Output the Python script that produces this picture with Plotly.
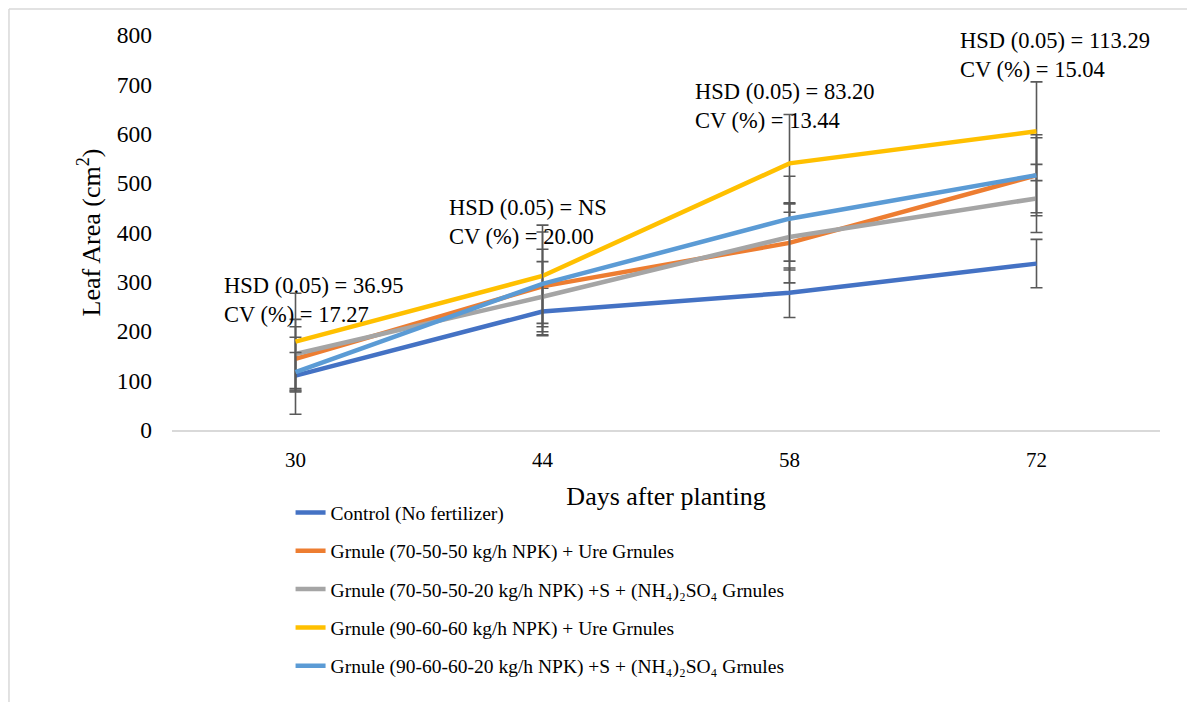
import plotly.graph_objects as go

days = ["30", "44", "58", "72"]

series_names = [
    "Control (No fertilizer)",
    "Grnule (70-50-50 kg/h NPK) + Ure Grnules",
    "Grnule (70-50-50-20 kg/h NPK) +S + (NH\u2084)\u2082SO\u2084 Grnules",
    "Grnule (90-60-60 kg/h NPK) + Ure Grnules",
    "Grnule (90-60-60-20 kg/h NPK) +S + (NH\u2084)\u2082SO\u2084 Grnules",
]
control = [110, 240, 278, 337]
g70 = [144, 291, 379, 516]
g70s = [154, 270, 391, 469]
g90 = [179, 312, 540, 605]
g90s = [117, 296, 428, 516]

control_err = [78, 47, 50, 49]
g70_err = [65, 75, 81, 82]
g70s_err = [70, 71, 67, 69]
g90_err = [98, 103, 99, 100]
g90s_err = [40, 105, 86, 76]

hsd_labels = [
    "HSD (0.05) = 36.95<br>CV (%) = 17.27",
    "HSD (0.05) = NS<br>CV (%) = 20.00",
    "HSD (0.05) = 83.20<br>CV (%) = 13.44",
    "HSD (0.05) = 113.29<br>CV (%) = 15.04",
]

colors = ["#4472C4", "#ED7D31", "#A5A5A5", "#FFC000", "#5B9BD5"]
values = [control, g70, g70s, g90, g90s]
errors = [control_err, g70_err, g70s_err, g90_err, g90s_err]

FONT = "Liberation Serif"

fig = go.Figure()
for i, (name, vals, errs, col) in enumerate(zip(series_names, values, errors, colors)):
    fig.add_trace(go.Scatter(
        x=days, y=vals, name=name, mode="lines",
        line=dict(color=col, width=4.5),
        legendgroup=f"g{i}",
        error_y=dict(type="data", array=errs, visible=True,
                     color="#595959", thickness=1.6, width=6),
    ))

# annotation positions (paper coords)
ann_x = [0.0506, 0.278, 0.527, 0.796]
ann_y = [0.329, 0.527, 0.820, 0.949]
for txt, ax, ay in zip(hsd_labels, ann_x, ann_y):
    fig.add_annotation(text=txt, x=ax, y=ay, xref="paper", yref="paper",
                       xanchor="left", yanchor="middle", align="left",
                       showarrow=False, font=dict(family=FONT, size=22.5, color="#000"))

# outer frame (left and top edges visible)
fig.add_shape(type="line", xref="paper", yref="paper", x0=-0.165, x1=-0.165, y0=1.066, y1=-0.75,
              line=dict(color="#D9D9D9", width=1.5))
fig.add_shape(type="line", xref="paper", yref="paper", x0=-0.165, x1=1.06, y0=1.066, y1=1.066,
              line=dict(color="#D9D9D9", width=1.5))

fig.update_layout(
    width=1195, height=702,
    margin=dict(l=164, r=43, t=27, b=280),
    paper_bgcolor="white", plot_bgcolor="white",
    font=dict(family=FONT, size=20, color="#000"),
    showlegend=True,
    legend=dict(x=0.120, y=-0.16, xanchor="left", yanchor="top",
                orientation="v", tracegroupgap=10,
                font=dict(family=FONT, size=19.5, color="#000"),
                bgcolor="rgba(0,0,0,0)"),
    xaxis=dict(type="category", range=[-0.5, 3.5], showgrid=False, zeroline=False,
               automargin=False,
               showline=True, linecolor="#D9D9D9", linewidth=1.5,
               ticks="", ticklabelstandoff=10,
               tickfont=dict(family=FONT, size=21, color="#000"),
               title=dict(text="Days after planting", standoff=16,
                          font=dict(family=FONT, size=26, color="#000"))),
    yaxis=dict(range=[0, 800], dtick=100, showgrid=False, zeroline=False,
               automargin=False,
               showline=False, ticks="", ticklabelstandoff=19,
               tickfont=dict(family=FONT, size=23.5, color="#000"),
               title=dict(text="Leaf Area (cm<sup>2</sup>)", standoff=8,
                          font=dict(family=FONT, size=26, color="#000"))),
)

fig.write_html("out.html")
